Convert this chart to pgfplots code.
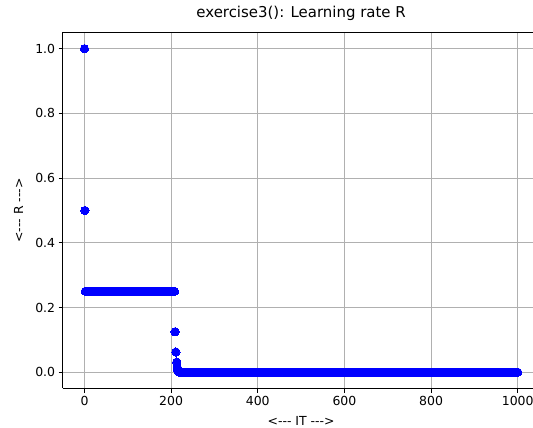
\documentclass[border=0pt]{standalone}
\usepackage{fontspec}
\setmainfont{DejaVu Sans}[Ligatures=TeXOff]
\usepackage{pgfplots}
\pgfplotsset{compat=1.18}
\definecolor{gridgray}{RGB}{176,176,176}
\begin{document}
\begin{tikzpicture}
\path[use as bounding box] (-62.8bp,-39.6bp) rectangle (470.2bp,388.4bp);
\begin{axis}[
  name=ax,
  at={(0,0)}, anchor=south west,
  scale only axis, width=470.2bp, height=355.9bp,
  xmin=-50, xmax=1035.3, ymin=-0.05, ymax=1.05,
  axis lines=left,
  axis line style={-, black, line width=0.96bp},
  xtick={0,200,400,600,800,1000},
  ytick={0,0.2,0.4,0.6,0.8,1.0},
  tick pos=left, tick align=outside,
  major tick length=4.2bp,
  tick style={black, line width=0.96bp},
  grid=major,
  grid style={color=gridgray, line width=0.96bp},
  /pgf/number format/assume math mode=true,
  ticklabel style={font=\fontsize{12.5}{14}\selectfont},
  xticklabel style={/pgf/number format/1000 sep={}},
  yticklabel style={/pgf/number format/.cd, fixed, fixed zerofill, precision=1},
  title={exercise3(): Learning rate R},
  title style={at={(axis description cs:0.5,1)}, anchor=base, yshift=9bp, xshift=3.2bp, font=\fontsize{15}{18}\selectfont},
  xlabel={<--- IT --->},
  xlabel style={at={(axis description cs:0.5,0)}, anchor=base, yshift=-37.5bp, xshift=3.2bp, font=\fontsize{12.5}{14}\selectfont},
  ylabel={<--- R --->},
  ylabel style={at={([xshift=-44.3bp]axis description cs:0,0.5)}, anchor=center, font=\fontsize{12.5}{14}\selectfont},
]
\addplot[only marks, mark=*, mark size=4.15bp, color=blue, mark options={draw=blue, fill=blue, line width=0pt}] coordinates {
(0,1.0)(1,0.5)
(2,0.25)(6,0.25)(10,0.25)(14,0.25)(18,0.25)(22,0.25)(26,0.25)(30,0.25)(34,0.25)(38,0.25)
(42,0.25)(46,0.25)(50,0.25)(54,0.25)(58,0.25)(62,0.25)(66,0.25)(70,0.25)(74,0.25)(78,0.25)
(82,0.25)(86,0.25)(90,0.25)(94,0.25)(98,0.25)(102,0.25)(106,0.25)(110,0.25)(114,0.25)(118,0.25)
(122,0.25)(126,0.25)(130,0.25)(134,0.25)(138,0.25)(142,0.25)(146,0.25)(150,0.25)(154,0.25)(158,0.25)
(162,0.25)(166,0.25)(170,0.25)(174,0.25)(178,0.25)(182,0.25)(186,0.25)(190,0.25)(194,0.25)(198,0.25)
(202,0.25)(206,0.25)(208,0.25)
(209,0.125)(211,0.0625)(213,0.03125)(214,0.015625)(215,0.0078125)(216,0.00390625)(217,0.001953)(218,0.000977)
(220,0)(226,0)(232,0)(238,0)(244,0)(250,0)(256,0)(262,0)(268,0)(274,0)
(280,0)(286,0)(292,0)(298,0)(304,0)(310,0)(316,0)(322,0)(328,0)(334,0)
(340,0)(346,0)(352,0)(358,0)(364,0)(370,0)(376,0)(382,0)(388,0)(394,0)
(400,0)(406,0)(412,0)(418,0)(424,0)(430,0)(436,0)(442,0)(448,0)(454,0)
(460,0)(466,0)(472,0)(478,0)(484,0)(490,0)(496,0)(502,0)(508,0)(514,0)
(520,0)(526,0)(532,0)(538,0)(544,0)(550,0)(556,0)(562,0)(568,0)(574,0)
(580,0)(586,0)(592,0)(598,0)(604,0)(610,0)(616,0)(622,0)(628,0)(634,0)
(640,0)(646,0)(652,0)(658,0)(664,0)(670,0)(676,0)(682,0)(688,0)(694,0)
(700,0)(706,0)(712,0)(718,0)(724,0)(730,0)(736,0)(742,0)(748,0)(754,0)
(760,0)(766,0)(772,0)(778,0)(784,0)(790,0)(796,0)(802,0)(808,0)(814,0)
(820,0)(826,0)(832,0)(838,0)(844,0)(850,0)(856,0)(862,0)(868,0)(874,0)
(880,0)(886,0)(892,0)(898,0)(904,0)(910,0)(916,0)(922,0)(928,0)(934,0)
(940,0)(946,0)(952,0)(958,0)(964,0)(970,0)(976,0)(982,0)(988,0)(994,0)
(1000,0)
};
\end{axis}
\draw[black, line width=0.96bp] ([xshift=-0.48bp]ax.north west) -- (ax.north east);
\end{tikzpicture}
\end{document}
